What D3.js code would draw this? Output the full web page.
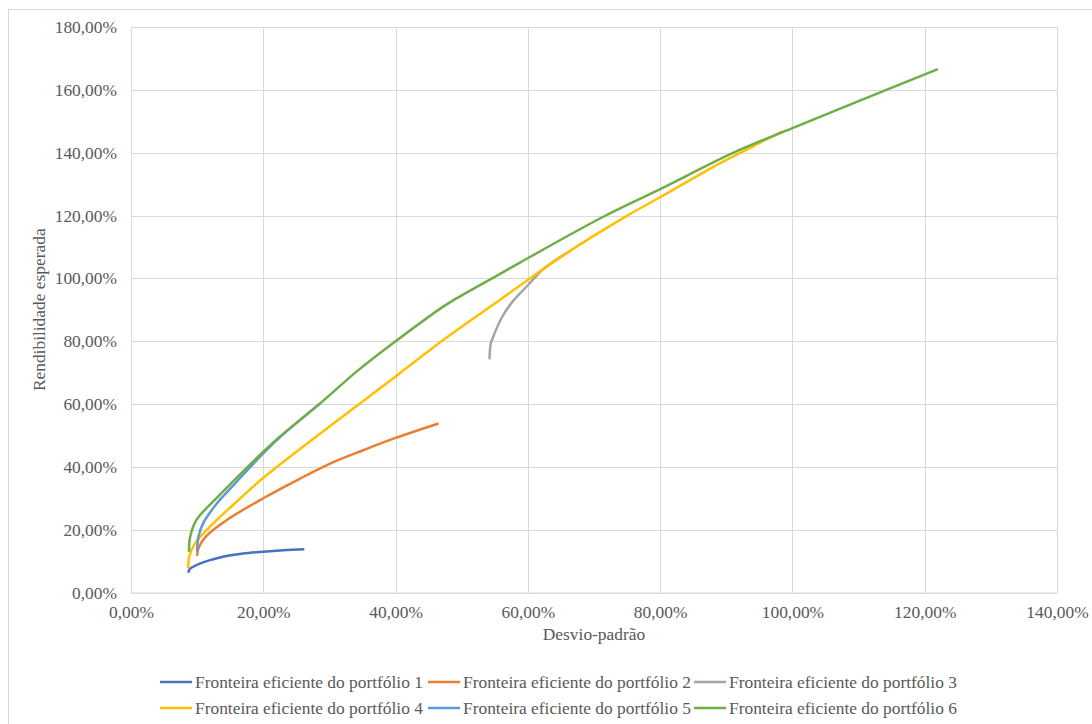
<!DOCTYPE html>
<html>
<head>
<meta charset="utf-8">
<script src="https://cdn.jsdelivr.net/npm/d3@7"></script>
<style>
  html, body { margin: 0; padding: 0; background: #ffffff; }
  svg { display: block; }
  text { font-family: "Liberation Serif", "Times New Roman", Times, serif; fill: #595959; }
</style>
</head>
<body>
<svg id="chart" width="1092" height="724"></svg>
<script>
// ---- Data (values in percent) ----
const seriesNames = [
  "Fronteira eficiente do portfólio 1",
  "Fronteira eficiente do portfólio 2",
  "Fronteira eficiente do portfólio 3",
  "Fronteira eficiente do portfólio 4",
  "Fronteira eficiente do portfólio 5",
  "Fronteira eficiente do portfólio 6"
];
const seriesColors = ["#4472C4", "#ED7D31", "#A5A5A5", "#FFC000", "#5B9BD5", "#70AD47"];

const p1Risk   = [8.66, 8.9, 10.4, 13.9, 16.9, 20.0, 23.0, 26.2];
const p1Return = [6.3, 7.5, 9.2, 11.4, 12.4, 13.0, 13.45, 13.8];

const p2Risk   = [10.0, 10.2, 11.4, 14.5, 20.0, 25.5, 30.6, 35.0, 40.0, 46.5];
const p2Return = [11.6, 14.1, 18.0, 23.1, 30.0, 36.2, 41.5, 45.2, 49.2, 53.8];

const p3Risk   = [54.2, 54.4, 54.8, 56.0, 57.8, 60.0, 62.3, 65.0, 66.5];
const p3Return = [74.2, 79.3, 81.6, 87.3, 92.9, 97.8, 102.9, 106.9, 108.8];

const p4Risk   = [8.66, 8.8, 9.7, 11.9, 15.5, 20.0, 25.5, 31.1, 39.9, 47.2, 55.8, 58.8, 65.4, 74.9, 80.0, 89.0, 94.1, 98.5];
const p4Return = [7.7, 11.4, 15.7, 20.9, 28.0, 36.5, 45.6, 54.6, 68.6, 80.4, 93.2, 97.7, 107.4, 119.8, 125.8, 136.6, 142.1, 146.8];

const p5Risk   = [10.0, 10.2, 10.9, 13.0, 15.5, 20.0, 22.5, 28.6];
const p5Return = [13.0, 17.8, 22.0, 28.4, 34.2, 44.3, 49.4, 60.2];

const p6Risk   = [8.77, 8.9, 9.9, 12.4, 15.5, 20.0, 22.5, 28.6, 34.1, 39.9, 47.2, 49.2, 55.8, 58.8, 71.4, 80.0, 91.1, 100.0, 110.0, 122.0];
const p6Return = [13.0, 17.3, 23.1, 28.9, 35.5, 44.8, 49.6, 60.2, 70.3, 79.8, 91.0, 93.6, 101.4, 105.0, 119.6, 128.4, 140.0, 147.8, 156.4, 166.6];

const xTicks = [0, 20, 40, 60, 80, 100, 120, 140];
const yTicks = [0, 20, 40, 60, 80, 100, 120, 140, 160, 180];

const xTitle = "Desvio-padrão";
const yTitle = "Rendibilidade esperada";

// ---- Build ----
const risks = [p1Risk, p2Risk, p3Risk, p4Risk, p5Risk, p6Risk];
const returns = [p1Return, p2Return, p3Return, p4Return, p5Return, p6Return];
const series = seriesNames.map((name, i) => ({
  name, color: seriesColors[i],
  points: risks[i].map((r, j) => ({ x: r, y: returns[i][j] }))
}));

const svg = d3.select("#chart");
const pLeft = 131, pRight = 1057, pTop = 27, pBottom = 592.5;

const x = d3.scaleLinear().domain([0, 140]).range([pLeft, pRight]);
const y = d3.scaleLinear().domain([0, 180]).range([pBottom, pTop]);
const fmt = v => v.toFixed(2).replace(".", ",") + "%";
const FONT = '"Liberation Serif", "Times New Roman", Times, serif';
const FS = 17.4;

// outer chart border
svg.append("rect").attr("x", 8.5).attr("y", 9.5).attr("width", 1200).attr("height", 900)
  .attr("fill", "none").attr("stroke", "#D9D9D9").attr("stroke-width", 1);

// gridlines
const grid = svg.append("g");
grid.selectAll(".gy").data(yTicks).join("line")
  .attr("x1", pLeft).attr("x2", pRight)
  .attr("y1", d => Math.round(y(d)) + 0.5).attr("y2", d => Math.round(y(d)) + 0.5)
  .attr("stroke", "#D9D9D9").attr("stroke-width", 1);
grid.selectAll(".gx").data(xTicks).join("line")
  .attr("y1", pTop).attr("y2", pBottom)
  .attr("x1", d => Math.round(x(d)) + 0.5).attr("x2", d => Math.round(x(d)) + 0.5)
  .attr("stroke", "#D9D9D9").attr("stroke-width", 1);

// axes (labels only, using d3 axes)
const xAxis = svg.append("g").attr("transform", `translate(0,${pBottom})`)
  .call(d3.axisBottom(x).tickValues(xTicks).tickFormat(fmt).tickSize(0).tickPadding(13));
const yAxis = svg.append("g").attr("transform", `translate(${pLeft},0)`)
  .call(d3.axisLeft(y).tickValues(yTicks).tickFormat(fmt).tickSize(0).tickPadding(14));
[xAxis, yAxis].forEach(a => {
  a.attr("font-family", FONT);
  a.select(".domain").attr("stroke", "#D9D9D9");
  a.selectAll("text").attr("font-size", FS).attr("font-family", FONT).attr("fill", "#595959");
});

// series lines
const line = d3.line().x(d => x(d.x)).y(d => y(d.y)).curve(d3.curveCatmullRom.alpha(0.5));
svg.append("g").selectAll("path").data(series).join("path")
  .attr("d", d => line(d.points))
  .attr("fill", "none").attr("stroke", d => d.color)
  .attr("stroke-width", 2.5).attr("stroke-linejoin", "round").attr("stroke-linecap", "butt");

// axis titles
svg.append("text").attr("x", (pLeft + pRight) / 2).attr("y", 640)
  .attr("text-anchor", "middle").attr("font-size", FS).attr("font-family", FONT).text(xTitle);
svg.append("text").attr("transform", `translate(45,${(pTop + pBottom) / 2}) rotate(-90)`)
  .attr("text-anchor", "middle").attr("font-size", FS).attr("font-family", FONT).text(yTitle);

// legend
const legX = [160, 428, 694];
const legY = [682, 708];
const leg = svg.append("g").selectAll("g").data(series).join("g")
  .attr("transform", (d, i) => `translate(${legX[i % 3]},${legY[Math.floor(i / 3)]})`);
leg.append("line").attr("x1", 0).attr("x2", 32).attr("y1", 0).attr("y2", 0)
  .attr("stroke", d => d.color).attr("stroke-width", 2.5);
leg.append("text").attr("x", 35).attr("y", 0).attr("dy", "0.35em")
  .attr("font-size", FS).attr("font-family", FONT).text(d => d.name);
</script>
</body>
</html>
